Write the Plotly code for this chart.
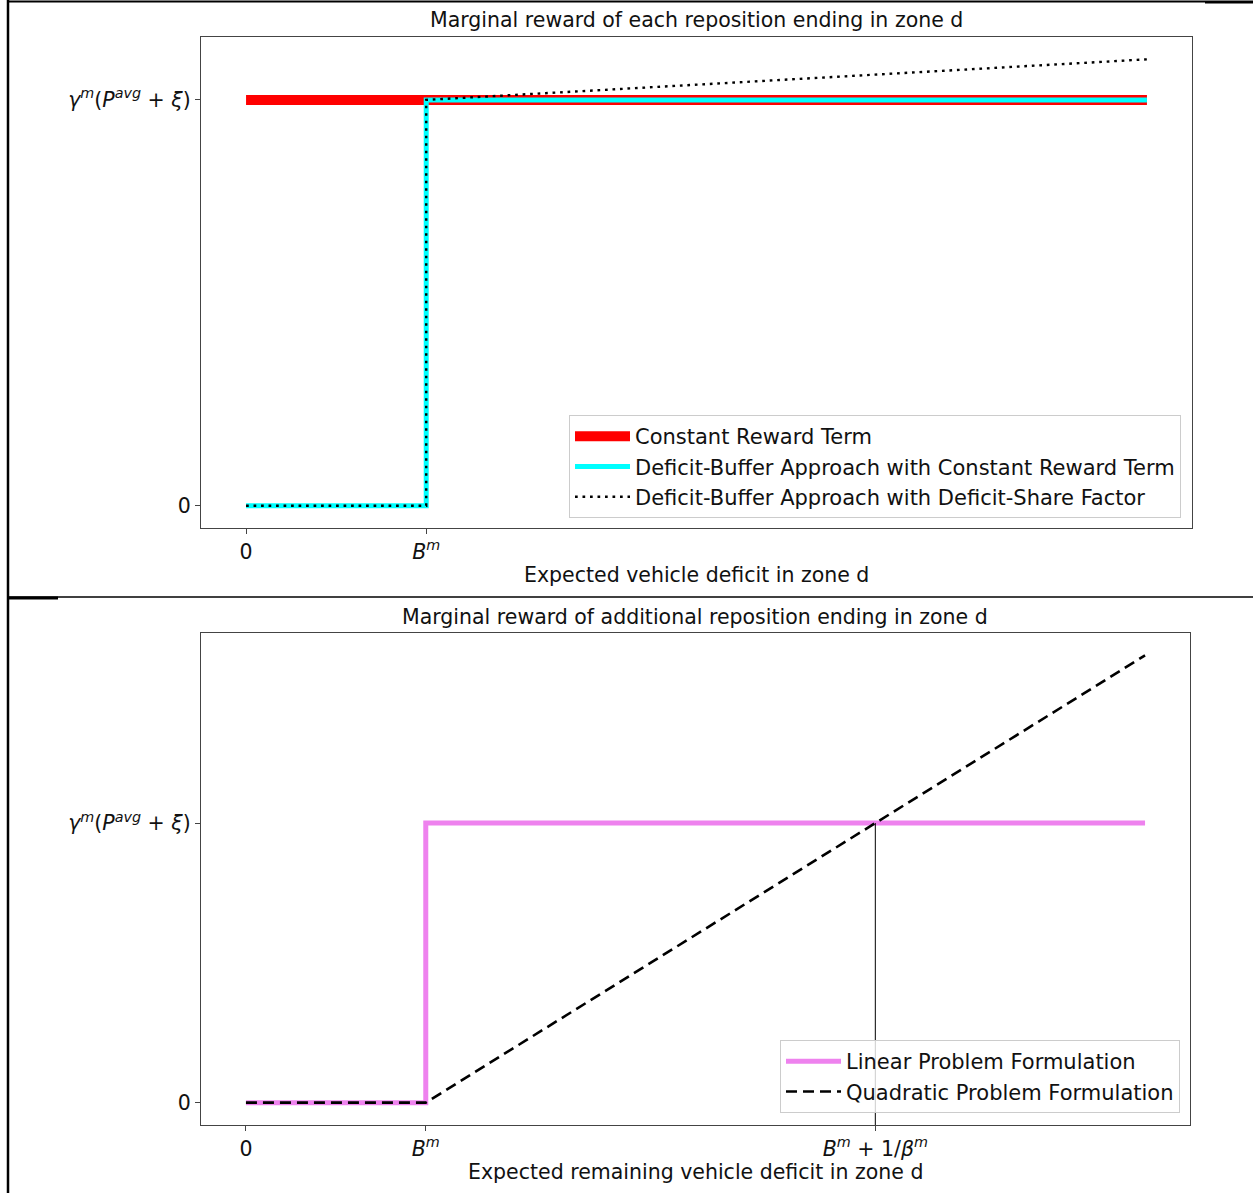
import plotly.graph_objects as go

W, H = 1253, 1193

# ---- data (top panel) ----
const_x = [0, 5]
const_y = [1, 1]
buffer_x = [0, 1, 1, 5]
buffer_y = [0, 0, 1, 1]
share_x = [0, 1, 1, 5]
share_y = [0, 0, 1, 1.1]

# ---- data (bottom panel) ----
linear_x = [0, 1, 1, 5]
linear_y = [0, 0, 1, 1]
quad_x = [0, 1, 5]
quad_y = [0, 0, 1.6]
cross_x = 3.5

top_xticks = [0, 1]
top_xticktext = ["0", "<i>B<sup>m</sup></i>"]
yticks = [0, 1]
yticktext = ["0", "<i>γ<sup>m</sup></i>(<i>P<sup>avg</sup></i> + <i>ξ</i>)"]
bot_xticks = [0, 1, cross_x]
bot_xticktext = ["0", "<i>B<sup>m</sup></i>", "<i>B<sup>m</sup></i> + 1/<i>β<sup>m</sup></i>"]

FONT = "DejaVu Sans"
FS = 20.5
LFS = 21

fig = go.Figure()

fig.add_trace(go.Scatter(x=const_x, y=const_y, mode="lines", name="Constant Reward Term",
                         line=dict(color="red", width=10), xaxis="x", yaxis="y",
                         legend="legend", legendgroup="a"))
fig.add_trace(go.Scatter(x=buffer_x, y=buffer_y, mode="lines",
                         name="Deficit-Buffer Approach with Constant Reward Term",
                         line=dict(color="cyan", width=5), xaxis="x", yaxis="y",
                         legend="legend", legendgroup="b"))
fig.add_trace(go.Scatter(x=share_x, y=share_y, mode="lines",
                         name="Deficit-Buffer Approach with Deficit-Share Factor",
                         line=dict(color="black", width=2.4, dash="2.7px,4.8px"), xaxis="x", yaxis="y",
                         legend="legend", legendgroup="c"))

y2min = -0.08
fig.add_trace(go.Scatter(x=linear_x, y=linear_y, mode="lines", name="Linear Problem Formulation",
                         line=dict(color="violet", width=5), xaxis="x2", yaxis="y2",
                         legend="legend2", legendgroup="d"))
fig.add_trace(go.Scatter(x=quad_x, y=quad_y, mode="lines", name="Quadratic Problem Formulation",
                         line=dict(color="black", width=2.6, dash="11px,6px"), xaxis="x2", yaxis="y2",
                         legend="legend2", legendgroup="e"))
fig.add_trace(go.Scatter(x=[cross_x, cross_x], y=[y2min, 1], mode="lines", showlegend=False,
                         line=dict(color="black", width=1), xaxis="x2", yaxis="y2"))

def px_x(p):
    return p / W

def px_y(p):
    return 1 - p / H

axis_common = dict(showline=True, mirror=True, linecolor="#444", linewidth=1.3,
                   ticks="outside", ticklen=5, tickcolor="#444", showgrid=False,
                   zeroline=False, automargin=False, tickfont=dict(family=FONT, size=FS, color="#111"),
                   tickmode="array")

legend_common = dict(xanchor="right", yanchor="bottom",
                     bgcolor="rgba(255,255,255,0.8)", bordercolor="#cccccc", borderwidth=1,
                     font=dict(family=FONT, size=LFS, color="#111"), tracegroupgap=0,
                     itemwidth=55, traceorder="grouped")

fig.update_layout(
    width=W, height=H, margin=dict(l=0, r=0, t=0, b=0),
    template="none", paper_bgcolor="white", plot_bgcolor="white",
    font=dict(family=FONT, size=FS, color="#111"),
    xaxis=dict(axis_common, domain=[px_x(201), px_x(1192)], range=[-0.25, 5.25],
               tickvals=top_xticks, ticktext=top_xticktext, anchor="y"),
    yaxis=dict(axis_common, domain=[px_y(528), px_y(37)], range=[-0.055, 1.155],
               tickvals=yticks, ticktext=yticktext, anchor="x"),
    xaxis2=dict(axis_common, domain=[px_x(201), px_x(1190)], range=[-0.25, 5.25],
                tickvals=bot_xticks, ticktext=bot_xticktext, anchor="y2"),
    yaxis2=dict(axis_common, domain=[px_y(1125), px_y(633)], range=[y2min, 1.68],
                tickvals=yticks, ticktext=yticktext, anchor="x2"),
    legend=dict(legend_common, x=px_x(1181), y=px_y(518)),
    legend2=dict(legend_common, x=px_x(1180), y=px_y(1113)),
    showlegend=True,
)

annotations = [
    dict(text="Marginal reward of each reposition ending in zone d", x=px_x(696), y=px_y(20)),
    dict(text="Expected vehicle deficit in zone d", x=px_x(696), y=px_y(575)),
    dict(text="Marginal reward of additional reposition ending in zone d", x=px_x(695), y=px_y(617)),
    dict(text="Expected remaining vehicle deficit in zone d", x=px_x(695), y=px_y(1172)),
]
for a in annotations:
    fig.add_annotation(xref="paper", yref="paper", showarrow=False, xanchor="center", yanchor="middle",
                       font=dict(family=FONT, size=FS, color="#111"), **a)

# table frame lines
frame = [
    (px_x(8), 0, px_x(8), 1, 2.5),
    (px_x(8), px_y(1.5), px_x(1205), px_y(1.5), 2),
    (px_x(1205), px_y(2), 1, px_y(2), 3),
    (px_x(8), px_y(597), 1, px_y(597), 1.5),
    (px_x(8), px_y(598), px_x(58), px_y(598), 3),
]
for x0, y0, x1, y1, w in frame:
    fig.add_shape(type="line", xref="paper", yref="paper", x0=x0, y0=y0, x1=x1, y1=y1,
                  line=dict(color="black", width=w))

fig.write_html("out.html", config={"displayModeBar": False},
               post_script="document.body.style.margin='0';document.body.style.overflow='hidden';")
